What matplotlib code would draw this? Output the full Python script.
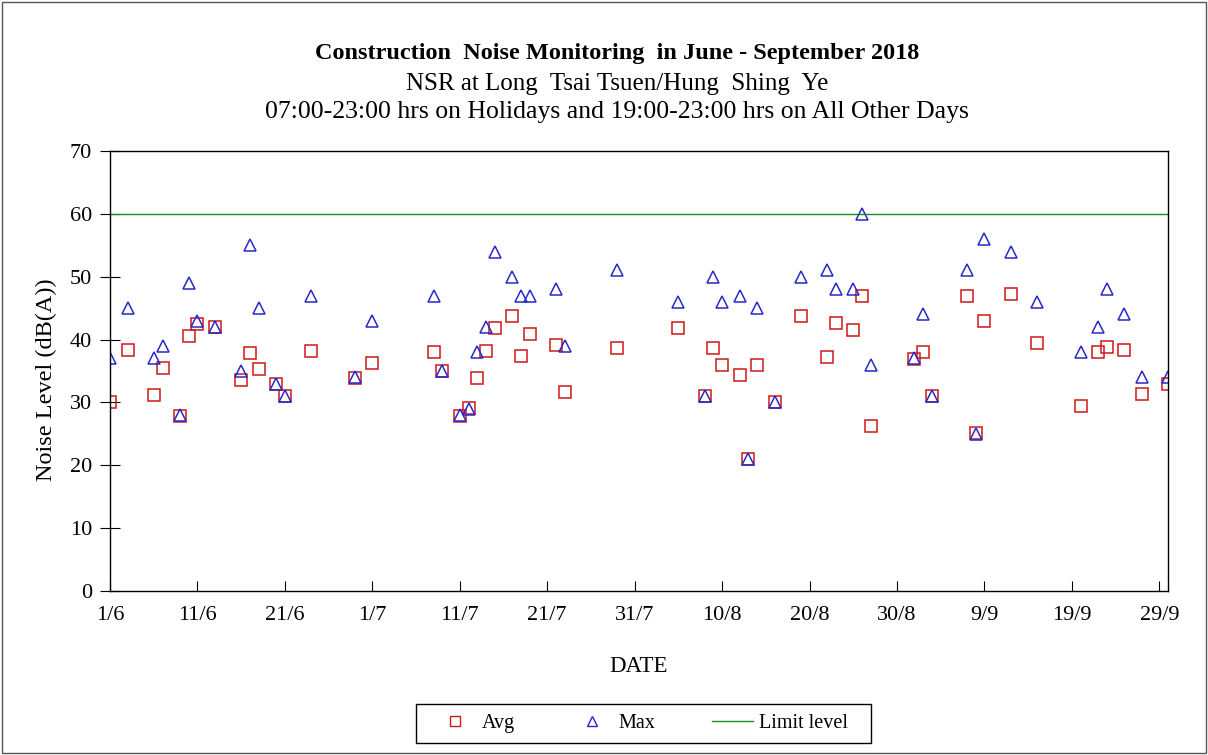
import datetime as dt
import matplotlib
matplotlib.use("Agg")
import matplotlib.pyplot as plt
from matplotlib.lines import Line2D
from matplotlib.patches import Rectangle

plt.rcParams['font.family'] = ['Liberation Serif', 'DejaVu Serif']

dates = ["2018-06-01", "2018-06-03", "2018-06-06", "2018-06-07", "2018-06-09", "2018-06-10",
         "2018-06-11", "2018-06-13", "2018-06-16", "2018-06-17", "2018-06-18", "2018-06-20",
         "2018-06-21", "2018-06-24", "2018-06-29", "2018-07-01",
         "2018-07-08", "2018-07-09", "2018-07-11", "2018-07-12", "2018-07-13", "2018-07-14",
         "2018-07-15", "2018-07-17", "2018-07-18", "2018-07-19", "2018-07-22", "2018-07-23",
         "2018-07-29",
         "2018-08-05", "2018-08-08", "2018-08-09", "2018-08-10", "2018-08-12", "2018-08-13",
         "2018-08-14", "2018-08-16", "2018-08-19", "2018-08-22", "2018-08-23", "2018-08-25",
         "2018-08-26", "2018-08-27",
         "2018-09-01", "2018-09-02", "2018-09-03", "2018-09-07", "2018-09-08", "2018-09-09",
         "2018-09-12", "2018-09-15", "2018-09-20", "2018-09-22", "2018-09-23", "2018-09-25",
         "2018-09-27", "2018-09-30"]

avg_level = [30.0, 38.4, 31.2, 35.5, 27.9, 40.5, 42.5, 42.0, 33.6, 37.8, 35.3, 33.0, 31.0, 38.2, 33.9, 36.2,
             38.0, 35.0, 27.9, 29.1, 33.9, 38.2, 41.9, 43.8, 37.4, 40.9, 39.2, 31.6, 38.6,
             41.9, 31.0, 38.6, 35.9, 34.3, 21.0, 35.9, 30.1, 43.8, 37.2, 42.7, 41.5, 47.0, 26.3,
             36.9, 38.0, 31.0, 46.9, 25.1, 42.9, 47.2, 39.4, 29.4, 38.0, 38.8, 38.4, 31.4, 32.9]

max_level = [37, 45, 37, 39, 28, 49, 43, 42, 35, 55, 45, 33, 31, 47, 34, 43,
             47, 35, 28, 29, 38, 42, 54, 50, 47, 47, 48, 39, 51,
             46, 31, 50, 46, 47, 21, 45, 30, 50, 51, 48, 48, 60, 36,
             37, 44, 31, 51, 25, 56, 54, 46, 38, 42, 48, 44, 34, 34]

limit_level = 60
start = dt.date(2018, 6, 1)
end = dt.date(2018, 9, 30)

red = '#d01818'
blue = '#2828c8'
green = '#1a8a1a'

x = [dt.datetime.strptime(d, "%Y-%m-%d").date() for d in dates]

fig = plt.figure(figsize=(12.08, 7.55), dpi=100)
ax = fig.add_axes([0.0911, 0.2172, 0.8758, 0.5828])

ax.plot(x, avg_level, linestyle='none', marker='s', markersize=8, markerfacecolor='none',
        markeredgecolor=red, markeredgewidth=1.1, label='Avg')
ax.plot(x, max_level, linestyle='none', marker='^', markersize=8, markerfacecolor='none',
        markeredgecolor=blue, markeredgewidth=1.1, label='Max')
ax.plot([start, end], [limit_level, limit_level], color=green, linewidth=1.0, label='Limit level')

ax.set_xlim(start, end)
ax.set_ylim(0, 70)
ax.set_yticks(range(0, 71, 10))
tick_dates = [start + dt.timedelta(days=10 * k) for k in range(13)]
ax.set_xticks(tick_dates)
ax.set_xticklabels([f"{d.day}/{d.month}" for d in tick_dates])
ax.tick_params(axis='x', direction='in', length=7, labelsize=16, pad=11)
ax.tick_params(axis='y', direction='inout', length=14, labelsize=16, pad=6)
for s in ax.spines.values():
    s.set_linewidth(1.0)
    s.set_color('black')

ax.set_ylabel('Noise Level (dB(A))', fontsize=17.5)
ax.yaxis.set_label_coords(-0.050, 0.48)
ax.set_xlabel('DATE', fontsize=16.5, labelpad=22)

fig.text(0.511, 0.929, 'Construction  Noise Monitoring  in June - September 2018',
         ha='center', va='center', fontsize=17.5, fontweight='bold')
fig.text(0.511, 0.889, 'NSR at Long  Tsai Tsuen/Hung  Shing  Ye',
         ha='center', va='center', fontsize=18)
fig.text(0.511, 0.851, '07:00-23:00 hrs on Holidays and 19:00-23:00 hrs on All Other Days',
         ha='center', va='center', fontsize=18.5)

handles = [Line2D([], [], linestyle='none', marker='s', markersize=6.5, markerfacecolor='none',
                  markeredgecolor=red),
           Line2D([], [], linestyle='none', marker='^', markersize=6.5, markerfacecolor='none',
                  markeredgecolor=blue),
           Line2D([], [], color=green, linewidth=1.0)]
leg = fig.legend(handles, ['Avg', 'Max', 'Limit level'], loc='center left',
                 bbox_to_anchor=(435 / 1208, 0.0417), borderaxespad=0, borderpad=0,
                 ncol=3, fontsize=14.5, frameon=False,
                 columnspacing=2.85, handlelength=2.0, handletextpad=0.3)

fig.add_artist(Rectangle((416 / 1208, 12 / 755), 455 / 1208, 39 / 755, transform=fig.transFigure,
                         fill=False, edgecolor='black', linewidth=1.0))
fig.add_artist(Rectangle((0.002, 0.003), 0.996, 0.994, transform=fig.transFigure,
                         fill=False, edgecolor='#555555', linewidth=1.0))

fig.savefig('out.png', dpi=100)
